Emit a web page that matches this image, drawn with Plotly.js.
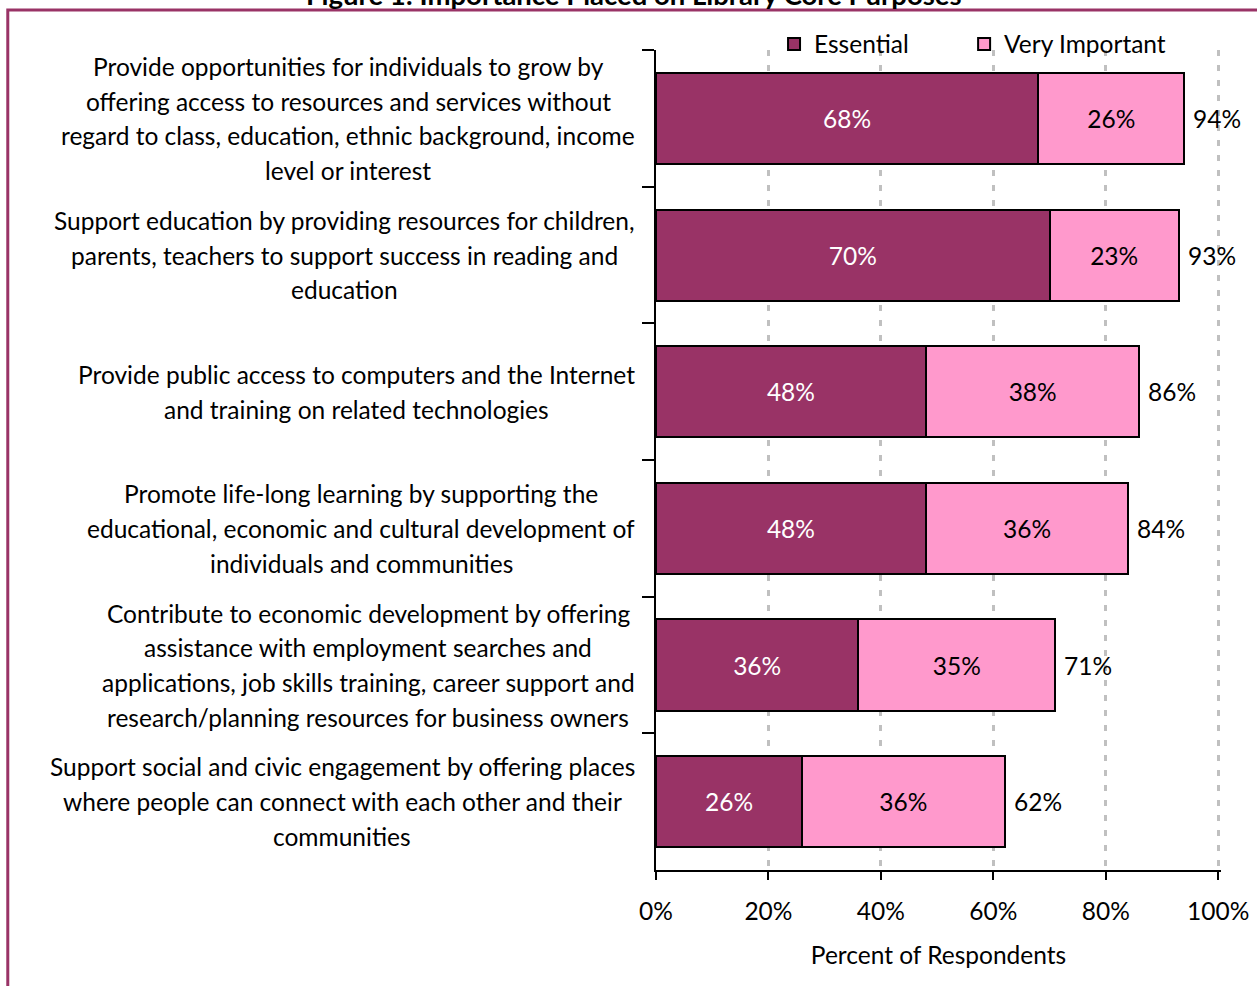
<!DOCTYPE html>
<html>
<head>
<meta charset="utf-8">
<script src="https://cdn.plot.ly/plotly-3.0.1.min.js"></script>
<style>
  html, body { margin: 0; padding: 0; background: #fff; }
  #chart { width: 1257px; height: 986px; }
</style>
</head>
<body>
<div id="chart"></div>
<script>
// ---- data ----
const categories = [
  "Provide opportunities for individuals to grow by\noffering access to resources and services without\nregard to class, education, ethnic background, income\nlevel or interest",
  "Support education by providing resources for children,\nparents, teachers to support success in reading and\neducation",
  "Provide public access to computers and the Internet\nand training on related technologies",
  "Promote life-long learning by supporting the\neducational, economic and cultural development of\nindividuals and communities",
  "Contribute to economic development by offering\nassistance with employment searches and\napplications, job skills training, career support and\nresearch/planning resources for business owners",
  "Support social and civic engagement by offering places\nwhere people can connect with each other and their\ncommunities"
];
const essential = [68, 70, 48, 48, 36, 26];
const veryImportant = [26, 23, 38, 36, 35, 36];
const totals = [94, 93, 86, 84, 71, 62];
const seriesNames = ["Essential", "Very Important"];
const xTickValues = [0, 20, 40, 60, 80, 100];
const titleText = "Figure 1: Importance Placed on Library Core Purposes";
const xTitle = "Percent of Respondents";

// ---- style ----
const FONT = "Lato, 'Open Sans', sans-serif";
const FS = 24.5;
const LINE_H = 34.7;
const LABEL_RIGHT_GAP = 21;
const cEss = "#993366";
const cVI = "#FF99CC";
const X_MAX = 100.5;            // small headroom so the 100% gridline is kept
const PLOT_L = 656, PLOT_T = 50, PLOT_B = 870;
const PLOT_W = 562 * X_MAX / 100;
const PLOT_H = PLOT_B - PLOT_T;

const catIds = categories.map((c, i) => "c" + i);

const traces = [
  {
    type: "bar", orientation: "h", name: seriesNames[0], legend: "legend",
    y: catIds, x: essential,
    marker: { color: cEss, line: { color: "#000", width: 2 } },
    text: essential.map(v => v + "%"), textposition: "inside",
    insidetextanchor: "middle",
    textfont: { family: FONT, size: FS, color: "#fff" },
    hoverinfo: "skip"
  },
  {
    type: "bar", orientation: "h", name: seriesNames[1], legend: "legend2",
    y: catIds, x: veryImportant,
    marker: { color: cVI, line: { color: "#000", width: 2 } },
    text: veryImportant.map(v => v + "%"), textposition: "inside",
    insidetextanchor: "middle",
    textfont: { family: FONT, size: FS, color: "#000" },
    hoverinfo: "skip"
  }
];

// measure text for centered multi-line category labels
const cv = document.createElement("canvas");
const ctx = cv.getContext("2d");
ctx.font = FS + "px Lato";

const px2x = p => (p - PLOT_L) / PLOT_W;
const px2y = p => (PLOT_B - p) / PLOT_H;

const annotations = [];
categories.forEach((lab, i) => {
  const lines = lab.split("\n");
  const w = Math.max(...lines.map(l => ctx.measureText(l).width));
  const n = lines.length;
  lines.forEach((l, j) => {
    annotations.push({
      xref: "paper", yref: "y", x: 0, y: catIds[i],
      xanchor: "center", yanchor: "middle",
      xshift: -(LABEL_RIGHT_GAP + w / 2),
      yshift: ((n - 1) / 2 - j) * LINE_H,
      text: l, showarrow: false,
      font: { family: FONT, size: FS, color: "#000" }
    });
  });
});
totals.forEach((t, i) => {
  annotations.push({
    xref: "x", yref: "y", x: t, y: catIds[i],
    xanchor: "left", yanchor: "middle", xshift: 7,
    text: t + "%", showarrow: false,
    font: { family: FONT, size: FS, color: "#000" }
  });
});
annotations.push({
  xref: "paper", yref: "paper", x: px2x(634), y: px2y(13),
  xanchor: "center", yanchor: "bottom",
  text: "<b>" + titleText + "</b>", showarrow: false,
  font: { family: FONT, size: 27.5, color: "#000" }
});

const legendCommon = {
  orientation: "h", xanchor: "left",
  y: px2y(44), yanchor: "middle",
  font: { family: FONT, size: FS, color: "#000" },
  bgcolor: "rgba(0,0,0,0)"
};

const layout = {
  width: 1257, height: 986,
  margin: { l: PLOT_L, r: 1257 - PLOT_L - PLOT_W, t: PLOT_T, b: 986 - PLOT_B },
  paper_bgcolor: "#fff", plot_bgcolor: "#fff",
  barmode: "stack", bargap: 0.333,
  font: { family: FONT, size: FS, color: "#000" },
  showlegend: true,
  legend: Object.assign({}, legendCommon, { x: px2x(774) }),
  legend2: Object.assign({}, legendCommon, { x: px2x(964) }),
  xaxis: {
    range: [0, X_MAX], tickvals: xTickValues, ticktext: xTickValues.map(v => v + "%"),
    showline: true, linecolor: "#000", linewidth: 2,
    ticks: "outside", ticklen: 8, tickwidth: 2, tickcolor: "#000",
    showgrid: true, gridcolor: "#C0C0C0", gridwidth: 3, griddash: "6px,9px",
    zeroline: false, ticklabelstandoff: 11,
    tickfont: { family: FONT, size: FS, color: "#000" },
    title: { text: xTitle, standoff: 22, font: { family: FONT, size: FS, color: "#000" } },
    fixedrange: true
  },
  yaxis: {
    type: "category", autorange: "reversed",
    showline: true, linecolor: "#000", linewidth: 2,
    ticks: "outside", ticklen: 12, tickwidth: 2, tickcolor: "#000",
    tickson: "boundaries", showticklabels: false, showgrid: false, zeroline: false,
    fixedrange: true
  },
  annotations: annotations,
  shapes: [{
    type: "rect", xref: "paper", yref: "paper",
    x0: px2x(8), x1: 1.3, y0: -0.3, y1: px2y(10),
    line: { color: "#993366", width: 3 }, fillcolor: "rgba(0,0,0,0)", layer: "below"
  }]
};

Plotly.newPlot("chart", traces, layout, { displayModeBar: false, staticPlot: true });
</script>
</body>
</html>
